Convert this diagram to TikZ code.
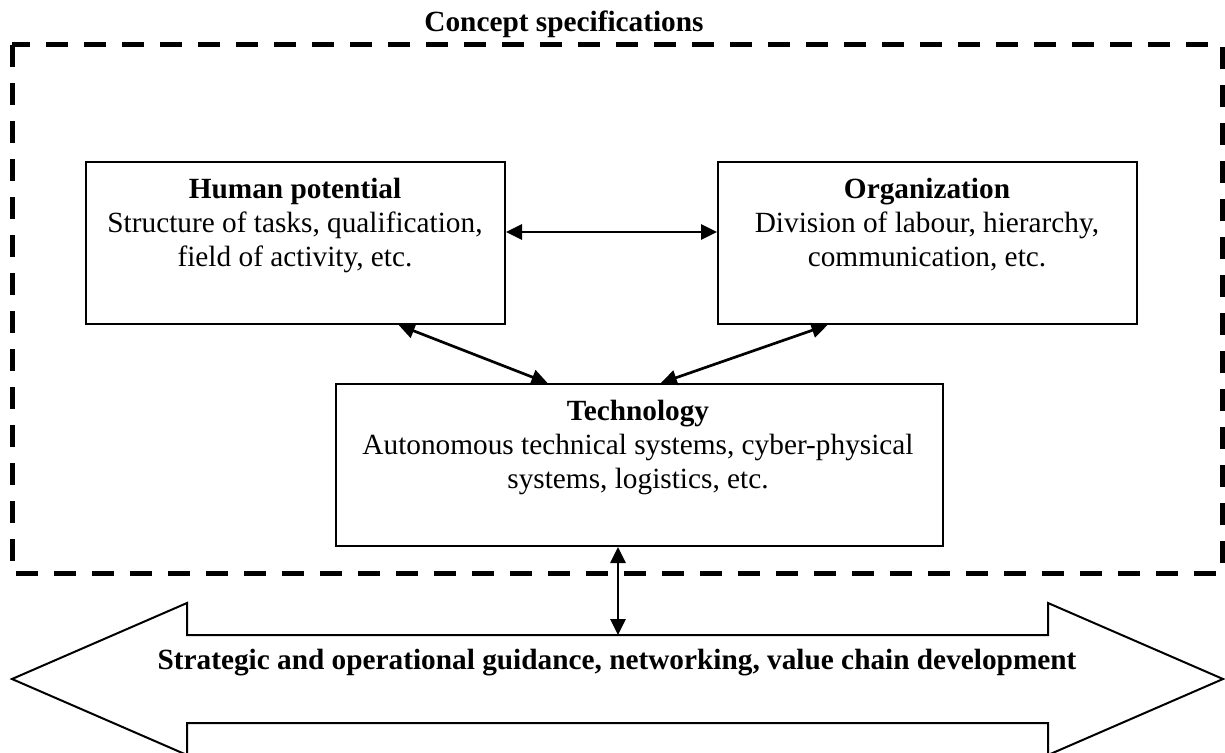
\documentclass[tikz,border=0pt]{standalone}
\usepackage{fontspec}
\setmainfont{Liberation Serif}
\usetikzlibrary{arrows.meta,calc}
\tikzset{
  boxshape/.style={draw, line width=2pt, rectangle, inner sep=0pt},
  boxtext/.style={anchor=north, inner sep=0pt, align=center, font=\fontsize{29.3}{34}\selectfont},
  frameline/.style={line width=5pt, dash pattern=on 22pt off 16pt},
  conn/.style={line width=2.7pt, {Triangle[length=16pt,width=15pt]}-{Triangle[length=16pt,width=15pt]}},
  bigarrow/.style={draw, line width=2pt, line join=miter},
  labeltext/.style={inner sep=0pt, font=\fontsize{29.3}{34}\selectfont\bfseries}
}
\begin{document}
\begin{tikzpicture}[x=1pt,y=-1pt]
\useasboundingbox (0,0) rectangle (1225,752);
% dashed frame
\draw[frameline] (12,45) rectangle (1222,573);
\node[labeltext, anchor=base] (title) at (564,32) {Concept specifications};
% boxes
\node[boxshape, minimum width=419pt, minimum height=162pt, anchor=north west] (hp) at (85,161) {};
\node[boxshape, minimum width=419pt, minimum height=162pt, anchor=north west] (org) at (717,161) {};
\node[boxshape, minimum width=607pt, minimum height=162pt, anchor=north west] (tech) at (335,383) {};
\node[boxtext] (hpt) at (295,178) {\textbf{Human potential}\\Structure of tasks, qualification,\\field of activity, etc.};
\node[boxtext] (orgt) at (927,178) {\textbf{Organization}\\Division of labour, hierarchy,\\communication, etc.};
\node[boxtext] (techt) at (638,400) {\textbf{Technology}\\Autonomous technical systems, cyber-physical\\systems, logistics, etc.};
% big double arrow
\draw[bigarrow] (12,679) -- (187,603) -- (187,635) -- (1048,635) -- (1048,603) -- (1223,679)
  -- (1048,755) -- (1048,723) -- (187,723) -- (187,755) -- cycle;
\node[labeltext, anchor=base] (strat) at (617,669) {Strategic and operational guidance, networking, value chain development};
\coordinate (shafttop) at (618,635);
\coordinate (midy) at (0,232);
% connectors
\draw[conn] (hp.east |- midy) -- (org.west |- midy);
\draw[conn] ($(hp.south west)!0.745!(hp.south east)$) -- ($(tech.north west)!0.349!(tech.north east)$);
\draw[conn] ($(org.south west)!0.2625!(org.south east)$) -- ($(tech.north west)!0.535!(tech.north east)$);
\draw[conn] (tech.south -| shafttop) -- (shafttop);
\end{tikzpicture}
\end{document}
